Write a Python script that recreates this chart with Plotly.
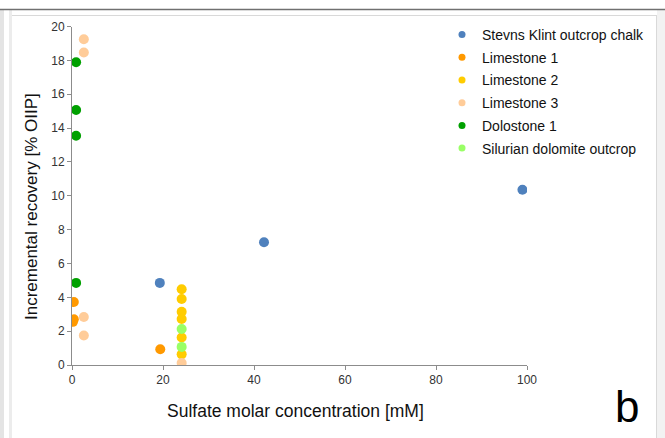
import plotly.graph_objects as go

W, H = 665, 438

series_names = ["Stevns Klint outcrop chalk", "Limestone 1", "Limestone 2",
                "Limestone 3", "Dolostone 1", "Silurian dolomite outcrop"]
series_colors = ["#4F81BD", "#FF9900", "#FFCC00", "#FFCC99", "#00A000", "#99FF66"]

stevns_x = [19.3, 42.2, 99.0]
stevns_y = [4.85, 7.25, 10.35]
lime1_x = [0.4, 0.2, 0.4, 19.4]
lime1_y = [3.72, 2.55, 2.7, 0.93]
lime2_x = [24.1, 24.1, 24.1, 24.1, 24.1, 24.1]
lime2_y = [4.48, 3.9, 3.14, 2.72, 1.62, 0.63]
lime3_x = [2.6, 2.6, 2.6, 2.6, 24.1]
lime3_y = [19.25, 18.46, 2.84, 1.74, 0.12]
dolo_x = [0.9, 0.9, 0.9, 0.9]
dolo_y = [17.89, 15.07, 13.55, 4.85]
silur_x = [24.1, 24.1]
silur_y = [2.13, 1.07]

xs = [stevns_x, lime1_x, lime2_x, lime3_x, dolo_x, silur_x]
ys = [stevns_y, lime1_y, lime2_y, lime3_y, dolo_y, silur_y]

x_ticks = [0, 20, 40, 60, 80, 100]
y_ticks = [0, 2, 4, 6, 8, 10, 12, 14, 16, 18, 20]

fig = go.Figure()
for name, col, x, y in zip(series_names, series_colors, xs, ys):
    fig.add_trace(go.Scatter(x=x, y=y, mode="markers", name=name, showlegend=False,
                             marker=dict(color=col, size=10, line=dict(width=0))))
for i, (name, col) in enumerate(zip(series_names, series_colors)):
    fig.add_trace(go.Scatter(x=[None], y=[None], mode="markers", name=name,
                             legendgroup=f"g{i}",
                             marker=dict(color=col, size=7, line=dict(width=0))))

x0, x1 = 72 / W, 527 / W
y0, y1 = (H - 365) / H, (H - 26.5) / H

axis_common = dict(showgrid=False, zeroline=False, showline=True, linecolor="#8c8c8c",
                   linewidth=1, ticks="outside", ticklen=4, tickcolor="#8c8c8c",
                   automargin=False,
                   tickfont=dict(family="Liberation Sans, Arial", size=12, color="#333333"))

fig.update_layout(
    width=W, height=H,
    margin=dict(l=0, r=0, t=0, b=0),
    paper_bgcolor="white", plot_bgcolor="white",
    xaxis=dict(domain=[x0, x1], range=[0, 100], tickvals=x_ticks, **axis_common),
    yaxis=dict(domain=[y0, y1], range=[0, 20], tickvals=y_ticks, **axis_common),
    legend=dict(x=442 / W, y=(H - 19) / H, xanchor="left", yanchor="top",
                font=dict(family="Liberation Sans, Arial", size=14, color="#111111"),
                bgcolor="rgba(0,0,0,0)", tracegroupgap=1.5, itemwidth=30,
                itemsizing="trace"),
    showlegend=True,
    font=dict(family="Liberation Sans, Arial"),
    annotations=[
        dict(text="Sulfate molar concentration [mM]", xref="paper", yref="paper",
             x=295 / W, y=(H - 411) / H, xanchor="center", yanchor="middle",
             showarrow=False, font=dict(size=17.5, color="#111111")),
        dict(text="Incremental recovery [% OIIP]", xref="paper", yref="paper",
             x=31 / W, y=(H - 207) / H, xanchor="center", yanchor="middle", textangle=-90,
             showarrow=False, font=dict(size=17, color="#111111")),
        dict(text="b", xref="paper", yref="paper",
             x=627 / W, y=(H - 406) / H, xanchor="center", yanchor="middle",
             showarrow=False, font=dict(size=44, color="#000000")),
    ],
    shapes=[
        dict(type="line", xref="paper", yref="paper", x0=0, x1=1,
             y0=(H - 9.5) / H, y1=(H - 9.5) / H, line=dict(color="#707070", width=1.5)),
        dict(type="rect", xref="paper", yref="paper", x0=0, x1=4 / W, y0=0, y1=(H - 10) / H,
             line=dict(width=0), fillcolor="#e4e4e4", layer="below"),
        dict(type="rect", xref="paper", yref="paper", x0=9 / W, x1=12 / W, y0=0,
             y1=(H - 10) / H, line=dict(width=0), fillcolor="#ececec", layer="below"),
        dict(type="rect", xref="paper", yref="paper", x0=657 / W, x1=1, y0=0,
             y1=(H - 10) / H, line=dict(width=0), fillcolor="#f2f2f2", layer="below"),
        dict(type="line", xref="paper", yref="paper", x0=12 / W, x1=657 / W,
             y0=(H - 15.5) / H, y1=(H - 15.5) / H, line=dict(color="#d9d9d9", width=1)),
        dict(type="line", xref="paper", yref="paper", x0=656.5 / W, x1=656.5 / W,
             y0=0, y1=(H - 15.5) / H, line=dict(color="#d9d9d9", width=1)),
    ],
)

post = ("document.body.style.margin='0';document.body.style.padding='0';"
        "document.body.style.overflow='hidden';")
fig.write_html("out.html", post_script=post,
               config={"responsive": False, "displayModeBar": False})
